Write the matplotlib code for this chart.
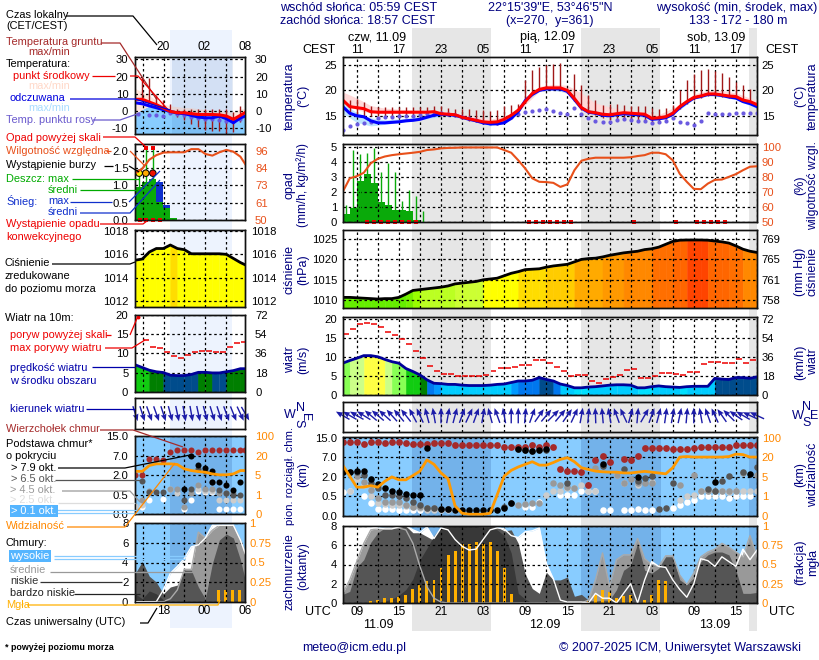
import numpy as np
import matplotlib
matplotlib.use('Agg')
import matplotlib.pyplot as plt
from matplotlib.patches import Rectangle

plt.rcParams['font.family'] = ['Liberation Sans', 'DejaVu Sans']

nan = np.nan

# ---- big panels, hourly from 07 UTC 11.09 ----
hours = np.arange(60)
temp_mid = [18.1,16.8,16.6,16.4,15.8,15.7,15.7,15.7,15.7,15.7,
            15.7,15.7,15.7,15.8,15.4,15.3,15.2,14.7,14.4,14.1,
            13.8,13.7,13.8,14.3,15.1,16.1,17.8,19.4,20.2,20.5,
            20.5,20.5,20.0,18.4,16.6,15.8,15.6,15.3,15.2,15.4,
            15.6,15.5,15.4,15.3,14.5,14.6,14.8,15.5,16.8,17.8,
            18.6,18.9,19.3,19.3,19.1,18.9,18.8,18.1,17.8,17.2]
temp_feel = [16.8,15.5,15.0,14.8,14.0,13.6,13.6,13.7,13.8,14.0,
             14.1,14.3,14.7,15.1,15.3,15.2,15.1,14.7,14.3,14.0,
             13.6,13.4,13.4,13.6,14.5,15.8,18.0,19.2,20.0,20.3,
             20.3,20.3,19.8,18.2,16.5,15.7,15.5,15.1,15.0,15.2,
             15.4,15.3,15.2,15.1,14.3,14.4,14.6,15.3,16.6,17.6,
             18.5,18.8,19.2,19.2,19.0,18.7,18.5,17.8,17.4,16.8]
dew_point = [12.2,13.0,13.4,13.5,13.8,14.5,14.7,14.8,14.9,15.0,
             15.0,15.2,15.3,15.4,15.5,15.3,15.1,14.7,14.5,14.1,
             13.8,13.6,13.6,14.0,14.8,15.3,15.8,16.0,16.1,16.4,
             16.0,15.5,15.3,16.6,15.3,14.5,13.9,13.8,13.7,14.1,
             14.3,14.1,14.0,13.9,13.6,13.8,13.9,14.5,13.7,13.6,
             13.2,14.0,15.5,15.3,15.3,15.3,15.5,15.5,15.6,15.5]
ground_max = [nan,18.1,18.3,17.8,16.9,16.8,16.8,16.8,16.8,16.8,
              16.8,16.8,16.8,16.9,16.9,16.6,16.4,16.4,16.4,16.1,
              16.1,16.0,16.1,16.9,17.1,17.4,22.0,24.0,24.7,25.0,
              25.3,25.5,20.4,23.2,21.0,19.0,18.1,17.1,17.4,17.4,
              17.1,16.9,17.0,17.0,16.6,16.3,16.6,17.1,20.0,22.0,
              23.2,24.0,24.2,23.9,23.4,22.6,21.7,21.0,20.2,nan]
ground_min = [nan,15.2,15.0,15.0,15.0,15.0,15.0,15.0,15.0,15.0,
              15.0,15.0,15.0,15.0,15.0,15.0,14.8,14.3,14.0,13.8,
              13.5,13.3,13.2,13.7,14.5,15.8,17.5,19.0,20.0,20.3,
              20.3,20.0,19.7,18.0,16.2,15.4,15.2,14.6,14.2,14.0,
              14.6,14.3,14.2,14.0,13.5,13.9,14.4,15.2,16.4,17.4,
              18.2,18.6,18.9,18.9,18.8,18.6,18.4,17.8,17.6,nan]
spread_t = [0,2,4,6,9,12,15,18,21,24,26,28,30,32,34,36,39,42,45,48,50,52,54,56,59]
pink_top = [19.7,18.5,17,16.5,16.2,16,15.8,15.1,14.3,15.3,18.2,20.8,21.2,21,19.5,17.5,16.4,16,15.2,17.2,19.3,20,20,19.5,18]
pink_bot = [17.5,16.2,15.5,15.5,15.5,15.5,15.2,14.2,13.5,14.2,17.2,19.8,20.2,19.4,16.5,15.2,15.1,15.1,14.3,16.3,18.4,19,18.9,18.6,17]
feel_top = [17.5,15.6,14.6,14.2,14.5,15,15.5,14.7,13.8,14.8,18.3,20.1,20.5,20,16.8,15.9,15.4,15.3,14.6,16.8,18.7,19.4,19.2,18.7,17]
feel_bot = [15.5,13.7,13,13.3,13.8,14.4,15,14.1,13,14.3,17.8,19.9,20,19.6,16.2,15.2,14.9,14.9,14.1,16.2,18.3,18.9,18.7,18.2,16.4]

rain_mean = [.55,.9,2.7,3.2,2.6,1.35,1.15,.8,.8,.7,.15,.03]
rain_max = [1.1,4.8,4.5,4.6,4.9,3.3,3.9,3.3,1.4,2.15,1.7,.7]
rain_t = np.arange(12)
conv_t = [3.5,4.5,5.5,6.5,7.5,8.5,9.5,10.5,26.5,27.5,28.5,29.5,30.5,31.5,32.5,41.5,47.5,50.5,51.5,52.5,53.5,54.5]
humidity = [70,79,80.4,82.7,89,92,93.5,94.4,95,95.5,96,96.6,97.8,98.2,98.9,99.2,99.3,99.5,99.5,99.5,
            99.5,99.5,99.5,97.8,96,91,85.5,79,76.7,76.5,
            76,73.3,75,84.4,90.7,92,92.7,92.7,92.7,92.7,92.7,93,93.8,94.4,96,96,95,91,82,76.7,
            72,71.8,75.5,78,78.2,80,81.8,84.4,86.7,87]

pressure = [1010.7,1010.7,1010.6,1010.5,1010.4,1010.3,1010.4,1010.4,1010.7,1011.5,
            1012.4,1012.6,1012.8,1013.0,1013.2,1013.5,1014.0,1014.2,1014.4,1014.6,
            1015.0,1015.2,1015.4,1016.0,1016.6,1017.0,1017.5,1017.6,1017.7,1018.1,
            1018.4,1018.6,1018.8,1019.4,1020.0,1020.2,1020.3,1020.6,1021.0,1021.3,
            1021.6,1021.8,1022.0,1022.4,1022.6,1023.0,1023.7,1024.4,1024.7,1024.75,
            1024.75,1024.75,1024.7,1024.5,1024.3,1024.0,1023.3,1022.5,1022.0,1021.7]
wind = [8.4,9.1,9.7,10.4,10.4,10.1,9.4,8.8,8.4,7.0,
        6.2,5.3,4.0,3.1,3.0,2.8,2.8,2.6,2.5,2.5,
        2.5,2.6,2.8,2.9,3.3,3.7,3.7,3.9,4.6,4.1,
        3.7,2.9,2.5,1.9,1.9,2.1,2.2,2.4,2.6,2.7,
        2.7,2.6,1.9,1.9,2.2,2.4,2.2,2.1,2.0,2.2,
        2.3,2.3,2.3,4.4,4.2,4.1,4.6,4.6,4.4,4.8]
gust = [16,17.4,18.7,19,18.7,17.9,16.7,15.8,14.7,13.4,
        11.7,9.9,7.6,6.3,5.5,5.5,5.1,4.9,4.9,4.9,
        5.2,6.4,7,7,7.5,7.8,7.8,9.2,9.2,8.4,
        7.5,6.3,4.9,5.4,5.2,3.7,3.1,4.1,4.7,5.2,
        6.5,6.8,4.4,4.4,4.9,5.7,5.7,5.5,5.2,6.1,
        6.1,8.1,8.6,8.6,8.4,8.5,9.4,8.5,9.2]
wind_dir = [-60,-60,-60,-58,-50,-50,-48,-42,-40,-38,
            -28,-25,-15,-10,0,10,15,20,25,20,
            10,-15,-20,-10,0,0,5,20,35,40,
            45,40,35,25,10,5,-2,-5,-10,-20,
            -25,15,5,30,20,15,8,10,12,5,
            0,-10,-20,-25,-35,-45,-55,-60,-65,-65]

cloud_top = [13.4,13.4,13.4,12.6,13.4,13.4,12.8,13.4,13.4,12.8,12.6,12.6,12.6,12.8,12.8,12.8,12.1,12.1,12.1,12.1,
             12.1,12.1,12.1,11.3,11.3,11.3,11.3,11.9,11.3,12,
             11.3,4.1,3.5,3.5,3.2,1.4,6.3,7.5,5.9,nan,6.6,6.3,7.5,10.8,10.8,10.9,10.9,10.3,10.3,10.3,
             10.8,11.3,11.3,11.3,11.3,11.3,12.1,12.1,12.1,12.1]
black_t = [0,1,2,3,4,5,6,7,8,9,10,11,12,14,15,16,17,18,19,20,21,22,23,24,25,26,27,28,29,37,42,53,58]
black_km = [3.3,3.3,3.55,3.4,1.8,1.45,1.15,.95,.85,.7,.63,.58,10.7,.19,.17,.16,.16,.16,.16,.16,.16,.16,.2,.33,10.4,10.1,9.6,10.1,10.2,5.2,2.05,1.6,2.7]
dark_t = [1,2,3,4,5,6,7,8,9,10,11,12,13,14,15,23,24,25,26,27,28,29,32,37,40,42,43,44,45,46,47,52,53,54,55,57,59]
dark_km = [3.2,3.2,2.6,1.53,1.15,.63,.58,.5,.46,.37,.28,.2,.2,.18,.17,.22,.33,10.2,9.9,9.4,9.8,10,1.55,4.7,3.9,1.7,1.9,2.2,.17,.2,1.55,1.1,.9,1.66,2.2,3.3,4.5]
grey_t = [2,3,4,5,6,7,8,9,10,11,12,13,25,26,27,28,30,31,32,33,36,39,40,41,42,43,44,48,50,51,52,53,54,55,56,57,59]
grey_km = [2.2,1.58,1.02,.46,.37,.37,.37,.28,.22,.22,.2,.2,.28,.3,.33,.33,1.53,1.4,1.22,1.15,4.3,2.6,1.53,1.8,1.53,1.53,1.53,1.4,2.6,.95,.95,.95,.95,.95,.95,3,2.5]
light_t = [1,2,3,4,5,6,7,8,9,10,11,12,13,14,15,16,29,30,31,32,33,34,35,36,39,40,42,44,48,49,50,51,52,53,54,55,56,57,58,59]
light_km = [.89,1.8,1.4,.5,.33,.3,.28,.28,.26,.24,.2,.16,.16,.15,.15,.15,.62,.89,.89,1.15,1.15,1.4,.89,.89,2.6,1.53,1.4,1.58,.42,.5,.63,.95,.89,.89,.95,.85,.89,.89,.89,.89]
white_t = [0,1,3,4,5,6,7,8,9,10,11,26,27,28,31,32,33,34,35,36,37,38,40,41,42,43,44,47,48,49,50,51,52,53,54,55,56,57,58]
white_km = [.85,.92,.5,.33,.18,.17,.17,.16,.16,.16,.16,.24,.24,.37,.63,.63,.63,.95,.89,.89,.15,.15,.15,.15,.17,.15,.15,.2,.28,.37,.41,.5,.5,.5,.5,.46,.5,.54,.54]
visibility = [14,5.5,2.9,2.9,3.2,2.9,4.1,5,4.4,4.4,6,9.4,18,14.6,8,4.6,.52,.14,.09,.09,.09,.14,1.34,5.5,10,12.6,14.6,16.6,14,14,
              16,18.4,19.7,16.6,12,10.7,9.4,8.9,8.6,8.6,8,8,8.6,9.2,8.6,8,7.3,12,21,23,
              21,21,21,21,21,23,33,31,21,21]

cloud_high = [8,8,8,8,7.9,7.8,7.7,7.7,7.9,8,7.6,7.3,7.9,6.7,7.8,7.6,6.6,5.9,5.5,5.6,
              6.6,7.6,7.8,7.7,7,6.8,7.4,7.5,7.8,4.1,2.5,.3,.1,.1,.1,0,1,.5,.5,0,
              1,2,0,2.4,4.3,3.8,3.7,2.4,1.4,.6,2,4.6,4.4,3.8,4.8,4.3,3.8,5.6,4.5,5.5]
cloud_mid = [1,2.4,4.3,6.2,7.6,7.7,7.8,7.8,7.8,7.6,6.2,3.8,1.7,.5,.1,0,0,0,0,0,
             0,0,0,0,0,0,0,0,0,0,0,0,0,0,0,.3,2.4,5.2,1.7,4.5,
             5,5,6.7,4.6,4,3.8,4.9,4.9,2.9,1.9,3.1,4.8,5.3,5.6,6.2,5.8,5.3,4.8,7,4.8]
cloud_low = [.9,1.2,3.7,4.5,6.3,7.3,7.8,7.9,8,8,7.3,7.3,6.9,6.5,7.9,8,8,8,8,8,
             8,8,7.9,7.5,7.6,6.2,3,1.5,1,3.2,2.4,2.4,2.7,.7,.9,.3,.2,.3,.3,1.4,
             3.4,3.9,6.2,3.4,3.1,3.6,4.8,4.8,2.4,1.9,2.6,4.3,5,5.3,5.3,5,3.4,1,1,1.1]
cloud_vlow = [0,0,0,0,0,0,.2,.4,.8,1.4,2.5,4.5,5.7,7,7.9,7.9,8,8,8,8,
              7.8,7.9,7.6,7,5.2,1,.4,0,0,0,0,0,0,0,0,0,0,0,0,0,
              0,0,0,0,0,0,0,0,0,0,0,0,0,0,0,0,0,0,0,0]
fog_t = [4,5,6,7,8,9,10,11,12,13,14,15,16,17,18,19,20,21,22,23,24,35,36,37,38,39,40,41,43,44,45,46]
fog_frac = [.03,.04,.06,.06,.08,.11,.18,.24,.28,.30,.45,.62,.68,.76,.76,.79,.76,.79,.67,.46,.12,
            .02,.1,.17,.14,.07,.09,.1,.04,.1,.3,.28]

# ---- small legend panels on the left ----
lhours = [0,1,2,3,4,5,6,7,8,9,10,11,12,13,14,15,15.7]
ltemp_mid = [6.8,6.8,5.2,3.7,1.7,-.2,-1,-1,-1.5,-2,-2,-2,-2.2,-2.9,-4.8,-2.5,-.8]
ltemp_feel = [4.8,4.2,3,1.9,.8,-.2,-1.2,-1.5,-2.5,-3.5,-3.9,-3.9,-3,-4.4,-6.8,-4,-2.9]
ldew_t = [.4,2,3,4,5,6,7,8,9,10,11,12,13,14,15]
ldew = [-1.5,-2.5,-2.5,-2.9,-1.2,-1.5,-2.5,-3.5,-3.9,-4.8,-4.8,-5.4,-5.8,-5.8,-4.4]
lground_t = [1,2,3,4,5,6,7,8,9,10,11,12,13,14,15]
lground_max = [19.7,19.3,9.1,6.2,4.2,1.4,1.4,1.4,1.4,1.4,1.4,1,1,-.6,2.7]
lground_min = [6.2,5.2,3.3,.4,-1.9,-3.5,-5.4,-7.3,-9.3,-10.8,-11.6,-11.6,-13,-12.2,-6.4]
lpink = [13,11,9.1,6.2,4.2,3,2.5,2,1.9,1.3,1,.5,0,-.5,-.6,1.3,1.3]
lfeel_top = [-1.5,1,3,2,.8,-.5,-1.5,-2,-2.5,-3,-3.5,-3.5,-3.9,-4.5,-7.3,-4,-3.5]
lrain_mean = [.96,1.1,1.18,.53,.34,.05]
lsnow_mean = [0,0,0,1.1,.43,0]
lrain_max_t = [.55,1.5,2.5]
lrain_max = [1.35,2.07,2.07]
lstorm_t = [.55,1.5,2.5]
lstorm_cols = ['#ffee00','#ffaa00','#ee1100']
lhumidity = [81,84,90,93,94.7,94.9,94.9,94.9,97,97,93.8,92.7,94.9,96.5,95.3,92,87]
lpressure = [1015.5,1015.6,1016.2,1016.5,1016.5,1016.8,1016.5,1016.4,1016.05,1016.05,1016.05,1016.05,1016.05,1016,1015.65,1015.3,1015.1]
lwind = [7,6.3,5.6,5.2,5,4.3,4.2,4.2,4.5,5.05,5.05,4.9,4.9,5.2,5.5,6,6]
lgust = [nan,13.5,11.6,11.3,10.4,9.4,8.7,9.7,10.4,10.7,10.7,10.4,10.4,11.6,12.7,12.9]
lwind_dir = [162,162,160,160,162,165,168,170,170,168,165,163,162,160,158,155,150]
ltop = [2,2,6.2,6.2,5.8,8.6,9.5,9.5,9.5,8.6,9.5,9.5,9.5,9.5,9.5,9.5,9.5]
lblack_t = [7,8,9,10,11,11,12,13,14,15]
lblack_km = [.92,6.83,4.67,3.8,3.2,1.48,1.48,1.24,.87,1.48]
ldark_t = [1,2,3,4,7,8,9,10,11,12,13,14,15]
ldark_km = [1.53,.67,.67,.67,.37,.92,3.6,3.2,1.48,.87,.62,.5,.5]
lgrey_t = [1,2,5,6,7,8,9,10,11,12,13,14]
lgrey_km = [.37,.75,.92,.92,.19,.62,1.24,.92,.92,.62,.62,.62]
llight_t = [0,1,5,6,9,10,11,12,13,14,15]
llight_km = [.21,.24,.92,.62,.92,.75,.75,.37,.37,.37,.37]
lwhite_t = [1,2,4,7,8,9,10,11,12,13,14,15]
lwhite_km = [.19,.37,.39,.12,.37,.75,.67,.67,.12,.12,.12,.12]
lvisibility = [8,8,12.5,13.8,13.8,13.8,13.3,9.9,8.6,7.8,7.3,6,5.3,5.3,6,8.6,8.6]
lcloud_high = [0,0,0,0,1.2,2.9,3.6,4.4,5.6,5.8,6.5,7.8,7.8,7.8,7.8,6.3,4.9]
lcloud_mid = [0,0,0,0,0,.3,1.2,3.3,3.3,7.1,6.5,7.3,7.8,7.8,7.8,6.3,4.9]
lcloud_low = [2.9,4.1,2.6,2,.8,1.5,1.7,3.2,3.2,1.5,.3,3.9,6.3,6.9,6.5,4.3,2.2]
lcloud_vlow = [.8,.3,1.1,.8,.2,0,0,0,0,0,0,0,0,0,0,0,0]
lfog_t = [11.9,12.9,13.9,14.9]
lfog_frac = [.15,.15,.15,.15]

# tick labels
local_ticks = ['11','17','23','05','11','17','23','05','11','17']
utc_ticks = ['09','15','21','03','09','15','21','03','09','15']

W, H = 820, 660
fig = plt.figure(figsize=(W/100, H/100), dpi=100, facecolor='white')

bg = fig.add_axes([0, 0, 1, 1], zorder=-1)
bg.set_xlim(0, W); bg.set_ylim(H, 0); bg.axis('off')
over = fig.add_axes([0, 0, 1, 1], zorder=20)
over.set_xlim(0, W); over.set_ylim(H, 0); over.axis('off')
over.patch.set_alpha(0)

# night bands
bg.add_patch(Rectangle((170, 30), 62, 598, color='#edf3fe', lw=0))
for x0, x1 in [(412, 490.7), (581, 660), (749, 757)]:
    bg.add_patch(Rectangle((x0, 28), x1-x0, 603, color='#e6e6e6', lw=0))

FS = 9      # header and axis titles
LFS = 7.9   # legend column
TFS = 8.1   # tick labels


def txt(x, y, s, color='black', ha='left', rot=0, fs=FS, **kw):
    over.text(x, y, s, color=color, ha=ha, va='center', rotation=rot, fontsize=fs, **kw)


def ltxt(x, y, s, color='black', **kw):
    kw.setdefault('fs', LFS)
    txt(x, y, s, color, **kw)


def lead(xs, ys, color='black', lw=0.9):
    over.plot(xs, ys, color=color, lw=lw, solid_capstyle='butt')


def panel(x0, x1, y0, y1, xmax, ylim, yticks, ylabels, rlabels, xticks, rcol='black', lpad=4, rpad=3.5):
    ax = fig.add_axes([x0/W, 1-y1/H, (x1-x0)/W, (y1-y0)/H], zorder=5)
    ax.patch.set_alpha(0)
    ax.set_xlim(0, xmax)
    ax.set_ylim(*ylim)
    ax.set_xticks(xticks)
    ax.set_xticklabels([])
    ax.set_yticks(yticks)
    ax.set_yticklabels(ylabels)
    ax.tick_params(length=0, pad=lpad, labelsize=TFS)
    ax.grid(True, color='black', lw=0.9, ls=(0, (2, 2.2)))
    ax.set_axisbelow(False)
    rx = ax.twinx()
    rx.set_ylim(*ylim)
    rx.set_yticks(yticks)
    rx.set_yticklabels(rlabels)
    rx.tick_params(length=0, pad=rpad, labelsize=TFS, labelcolor=rcol)
    rx.patch.set_alpha(0)
    for a in (ax, rx):
        for s in a.spines.values():
            s.set_linewidth(1.0)
            s.set_color('#111111')
    return ax, rx


def press_col(p):
    levels = [1010.8, 1011.5, 1012.5, 1013.5, 1014.6, 1016.7, 1018.0, 1019, 1020.3, 1021.5, 1022.5, 1024, 1024.72]
    cols = ['#66ee00', '#77f000', '#99ff00', '#bbff22', '#ccff33', '#ffff00', '#ffdd00', '#ffcc00',
            '#ffaa00', '#ff9900', '#ff8800', '#ff6f00', '#ff6600', '#ff4400']
    return cols[np.searchsorted(levels, p)]


def wind_col(v):
    levels = [2, 3, 3.5, 4, 5, 6, 7, 8, 9, 10]
    cols = ['#00e0ff', '#00ccff', '#0099ff', '#0077ee', '#004c8c', '#007f00', '#11cc11', '#55ee33',
            '#88ff55', '#ccff88', '#ffff44']
    return cols[np.searchsorted(levels, v)]


def stepped_fill(ax, t, v, base, colfun):
    for i in range(len(t)-1):
        ax.fill_between(t[i:i+2], base, v[i:i+2], color=colfun(v[i]), lw=0.4, zorder=1)


def base_scale(ax, knots):
    pos = [0, 1, 2, 3, 4, 5]
    ax.set_yscale('function', functions=(lambda v: np.interp(v, knots, pos),
                                         lambda p: np.interp(p, pos, knots)))


def dots(ax, t, km, col, s):
    ax.scatter(t, km, s=s, color=col, lw=0, zorder=3)


km_knots = [0, .5, 2, 7, 15, 23]
vis_knots = [0, 1, 5, 20, 100, 180]
night_spans = [(9.9, 21.1), (34, 45.3), (57.9, 59)]

# ------------- main column -------------
MX0, MX1 = 342.7, 757
mx = np.arange(2, 60, 3)
hrs = np.array(hours)

# temperature
ax, rx = panel(MX0, MX1, 57, 135, 59, (11.2, 26.6), [15, 20, 25], ['15', '20', '25'], ['15', '20', '25'], mx)
ax.fill_between(spread_t, pink_bot, pink_top, color='#ffd9d9', lw=0, zorder=1)
ax.fill_between(spread_t, feel_bot, feel_top, color='#bde4ff', lw=0, zorder=1.1)
ax.vlines(hrs, ground_min, ground_max, color='#a01818', lw=1.0, zorder=3)
ax.scatter(hrs, dew_point, s=9, color='#6a5ae0', lw=0, zorder=3)
ax.plot(hrs, temp_feel, color='#0000ff', lw=2.2, zorder=4)
ax.plot(hrs, temp_mid, color='#ff0000', lw=2.2, zorder=4)

# precipitation and humidity
ax, rx = panel(MX0, MX1, 144, 222, 59, (0, 5.18), [0, 1, 2, 3, 4, 5], ['0', '1', '2', '3', '4', '5'],
               ['50', '60', '70', '80', '90', '100'], mx, rcol='#e8501a')
ax.bar(rain_t, rain_mean, width=1, align='edge', color='#0aaa0a', lw=0, zorder=1)
ax.vlines(rain_t+0.45, 0, rain_max, color='#0aaa0a', lw=1.0, zorder=3)
ax.scatter(conv_t, np.zeros(len(conv_t)), s=7, marker='s', color='#ee0000', lw=0, zorder=4, clip_on=False)
rx.set_ylim(50, 101.8)
rx.set_yticks([50, 60, 70, 80, 90, 100])
rx.set_yticklabels(['50', '60', '70', '80', '90', '100'])
rx.plot(hrs, humidity, color='#e8501a', lw=1.5)

# pressure
ax, rx = panel(MX0, MX1, 230, 308, 59, (1008.1, 1027.2), [1010, 1015, 1020, 1025],
               ['1010', '1015', '1020', '1025'], ['758', '761', '765', '769'], mx)
stepped_fill(ax, hrs, pressure, 1008.1, press_col)
ax.plot(hrs, pressure, color='black', lw=2, zorder=4)

# wind
ax, rx = panel(MX0, MX1, 317, 395, 59, (0, 20.6), [0, 5, 10, 15, 20], ['0', '5', '10', '15', '20'],
               ['0', '18', '36', '54', '72'], mx)
stepped_fill(ax, hrs, wind, 0, wind_col)
ax.plot(hrs, wind, color='#000099', lw=2, zorder=4)
ax.hlines(gust, hrs[:-1]+0.05, hrs[:-1]+0.9, color='#ee0000', lw=1.1, zorder=4)

# wind direction
ax, rx = panel(MX0, MX1, 402, 432, 59, (0, 1), [], [], [], mx)
d = np.radians(wind_dir)
ax.quiver(hrs, np.full(60, .55), np.sin(d), np.cos(d), color='#1c1ca8', pivot='mid', angles='uv',
          scale_units='inches', scale=6.4, units='inches', width=.014, headwidth=4.2, headlength=5,
          headaxislength=4.5, zorder=4, clip_on=False)

# cloud base and visibility
ax, rx = panel(MX0, MX1, 437, 516, 59, (0, 15.3), [0, .5, 2, 7, 15], ['0.0', '0.5', '2.0', '7.0', '15.0'],
               ['0', '1', '5', '20', '100'], mx, rcol='#ff8800')
base_scale(ax, km_knots)
ax.set_ylim(0, 15.3)
ax.set_yticks([0, .5, 2, 7, 15])
ax.set_yticklabels(['0.0', '0.5', '2.0', '7.0', '15.0'])
ax.patch.set_alpha(1)
ax.patch.set_facecolor('#88ccff')
for a0, a1 in night_spans:
    ax.axvspan(a0, a1, color='#4477bb', alpha=.3, lw=0, zorder=1)
dots(ax, white_t, white_km, 'white', 22)
dots(ax, light_t, light_km, '#cccccc', 22)
dots(ax, grey_t, grey_km, '#999999', 22)
dots(ax, dark_t, dark_km, '#555555', 22)
dots(ax, hrs, cloud_top, '#a52a2a', 24)
dots(ax, black_t, black_km, 'black', 22)
base_scale(rx, vis_knots)
rx.set_ylim(0, 103)
rx.set_yticks([0, 1, 5, 20, 100])
rx.set_yticklabels(['0', '1', '5', '20', '100'])
rx.plot(hrs, visibility, color='#ff9900', lw=2)

# cloud cover and fog
ax, rx = panel(MX0, MX1, 526, 603, 59, (0, 8), [0, 2, 4, 6, 8], ['0', '2', '4', '6', '8'],
               ['0', '0.25', '0.5', '0.75', '1'], mx, rcol='#ff8800')
ax.patch.set_alpha(1)
ax.patch.set_facecolor('#88ccff')
for a0, a1 in night_spans:
    ax.axvspan(a0, a1, color='#4477bb', alpha=.3, lw=0, zorder=.9)
ax.fill_between(hrs, 0, cloud_high, color='white', lw=0, zorder=1)
ax.fill_between(hrs, 0, cloud_mid, color='#999999', lw=0, zorder=1.1)
ax.fill_between(hrs, 0, cloud_low, color='#555555', lw=0, zorder=1.2)
ax.fill_between(hrs, 0, cloud_vlow, color='#383838', lw=0, zorder=1.3)
ax.bar(fog_t, np.array(fog_frac)*8, width=.42, color='#ffb000', lw=0, zorder=2)
ax.plot(hrs, cloud_high, color='white', lw=1, zorder=4)
ax.plot(hrs, cloud_mid, color='#aaaaaa', lw=1, zorder=3.5)

# ------------- left legend column -------------
LX0, LX1 = 135.3, 245.3
lt = np.array(lhours)
lx = np.array([1.15, 4.15, 7, 10, 12.95])

ax, rx = panel(LX0, LX1, 57, 134, 15.7, (-13.3, 31.3), [-10, 0, 10, 20, 30], ['-10', '0', '10', '20', '30'],
               ['-10', '0', '10', '20', '30'], lx, lpad=5, rpad=7)
ax.fill_between(lt, -14, lfeel_top, color='#88ccff', lw=0, zorder=1)
ax.fill_between(lt, lfeel_top, lpink, color='#ffe6dc', lw=0, zorder=1)
ax.axvspan(5.2, 14, color='#4477bb', alpha=.15, lw=0, zorder=1.1)
ax.vlines(lground_t, lground_min, lground_max, color='#a01818', lw=1.0, zorder=3)
ax.scatter(ldew_t, ldew, s=9, color='#6a5ae0', lw=0, zorder=3)
ax.plot(lt, ltemp_feel, color='#0000ff', lw=2.2, zorder=4)
ax.plot(lt, ltemp_mid, color='#ff0000', lw=2.2, zorder=4)

ax, rx = panel(LX0, LX1, 143.7, 220, 15.7, (0, 2.2), [0, .5, 1, 1.5, 2], ['0.0', '0.5', '1.0', '1.5', '2.0'],
               ['50', '61', '73', '84', '96'], lx, rcol='#e8501a', lpad=5, rpad=7)
ax.bar(np.arange(6), lsnow_mean, width=1, align='edge', color='#1030cc', lw=0, zorder=1)
ax.bar(np.arange(6), lrain_mean, width=1, align='edge', color='#0aaa0a', lw=0, zorder=1.1)
ax.vlines(lrain_max_t, 0, lrain_max, color='#0aaa0a', lw=1.0, zorder=3)
ax.scatter(lrain_max_t[1:], [2.09, 2.09], s=10, marker='s', color='#ee0000', lw=0, zorder=4, clip_on=False)
ax.scatter(lstorm_t, [1.35, 1.35, 1.35], s=22, c=lstorm_cols, edgecolors='black', lw=.7, zorder=5)
ax.scatter([.7, 1.5, 2.5, 3.5], [0, 0, 0, 0], s=5, marker='s', color='#ee0000', lw=0, zorder=4, clip_on=False)
rx.set_ylim(50, 100.6)
rx.set_yticks([50, 61.5, 73, 84.5, 96])
rx.set_yticklabels(['50', '61', '73', '84', '96'])
rx.plot(lt, lhumidity, color='#e8501a', lw=1.5)

ax, rx = panel(LX0, LX1, 229.7, 306.7, 15.7, (1011.52, 1018.11), [1012, 1014, 1016, 1018],
               ['1012', '1014', '1016', '1018'], ['1012', '1014', '1016', '1018'], lx, lpad=5, rpad=4)
stepped_fill(ax, lt, lpressure, 1011.52, press_col)
ax.plot(lt, lpressure, color='black', lw=2, zorder=4)

ax, rx = panel(LX0, LX1, 315, 391.7, 15.7, (0, 20), [0, 5, 10, 15, 20], ['0', '5', '10', '15', '20'],
               ['0', '18', '36', '54', '72'], lx, lpad=5, rpad=7)
stepped_fill(ax, lt, lwind, 0, wind_col)
ax.plot(lt, lwind, color='#000099', lw=2, zorder=4)
ax.hlines(lgust, np.arange(16)+.05, np.arange(16)+.95, color='#ee0000', lw=1.1, zorder=4)
ax.scatter([.45], [19.6], s=8, color='#ee0000', lw=0, zorder=5, clip_on=False)

ax, rx = panel(LX0, LX1, 398.3, 429, 15.7, (0, 1), [], [], [], lx)
d = np.radians(lwind_dir)
ax.quiver(lt, np.full(17, .5), np.sin(d), np.cos(d), color='#1c1ca8', pivot='mid', angles='uv',
          scale_units='inches', scale=6.4, units='inches', width=.014, headwidth=4.2, headlength=5,
          headaxislength=4.5, zorder=4, clip_on=False)

ax, rx = panel(LX0, LX1, 435.7, 514, 15.7, (0, 15.3), [0, .5, 2, 7, 15], ['0.0', '0.5', '2.0', '7.0', '15.0'],
               ['0', '1', '5', '20', '100'], lx, rcol='#ff8800', lpad=5, rpad=7)
base_scale(ax, km_knots)
ax.set_ylim(0, 15.3)
ax.set_yticks([0, .5, 2, 7, 15])
ax.set_yticklabels(['0.0', '0.5', '2.0', '7.0', '15.0'])
ax.patch.set_alpha(1)
ax.patch.set_facecolor('#88ccff')
ax.axvspan(5.0, 13.8, color='#4477bb', alpha=.3, lw=0, zorder=1)
dots(ax, lwhite_t, lwhite_km, 'white', 19)
dots(ax, llight_t, llight_km, '#cccccc', 19)
dots(ax, lgrey_t, lgrey_km, '#999999', 19)
dots(ax, ldark_t, ldark_km, '#555555', 19)
dots(ax, lt, ltop, '#a52a2a', 19)
dots(ax, lblack_t, lblack_km, 'black', 19)
base_scale(rx, vis_knots)
rx.set_ylim(0, 103)
rx.set_yticks([0, 1, 5, 20, 100])
rx.set_yticklabels(['0', '1', '5', '20', '100'])
rx.plot(lt, lvisibility, color='#ff9900', lw=2)

ax, rx = panel(LX0, LX1, 523.3, 601.7, 15.7, (0, 8), [0, 2, 4, 6, 8], ['0', '2', '4', '6', '8'],
               ['0', '0.25', '0.5', '0.75', '1'], lx, rcol='#ff8800', lpad=5, rpad=3)
ax.patch.set_alpha(1)
ax.patch.set_facecolor('#88ccff')
ax.axvspan(5.0, 13.8, color='#4477bb', alpha=.3, lw=0, zorder=.9)
ax.fill_between(lt, 0, lcloud_high, color='white', lw=0, zorder=1)
ax.fill_between(lt, 0, lcloud_mid, color='#999999', lw=0, zorder=1.1)
ax.fill_between(lt, 0, lcloud_low, color='#555555', lw=0, zorder=1.2)
ax.fill_between(lt, 0, lcloud_vlow, color='#383838', lw=0, zorder=1.3)
ax.bar(lfog_t, np.array(lfog_frac)*8, width=.42, color='#ffb000', lw=0, zorder=2)
ax.plot(lt, lcloud_high, color='white', lw=1, zorder=4)
ax.plot(lt, lcloud_mid, color='#aaaaaa', lw=1, zorder=3.5)

# ------------- texts -------------
navy = '#000080'
txt(280, 8, 'wschód słońca: 05:59 CEST', navy)
txt(280, 21, 'zachód słońca: 18:57 CEST', navy)
txt(550, 8, '22°15\'39"E, 53°46\'5"N', navy, ha='center')
txt(550, 21, '(x=270,  y=361)', navy, ha='center')
txt(817, 8, 'wysokość (min, środek, max)', navy, ha='right')
txt(738, 21, '133 - 172 - 180 m', navy, ha='center')

txt(377, 37, 'czw, 11.09', ha='center')
txt(548, 37, 'pią, 12.09', ha='center')
txt(716, 37, 'sob, 13.09', ha='center')
txt(319, 50, 'CEST', ha='center')
txt(782, 50, 'CEST', ha='center')
txt(318, 612, 'UTC', ha='center')
txt(782, 612, 'UTC', ha='center')
for i, (a, b) in enumerate(zip(local_ticks, utc_ticks)):
    x = MX0 + (2 + 6*i) * (MX1-MX0)/59
    txt(x, 50, a, ha='center', fs=8.6)
    txt(x, 612, b, ha='center', fs=8.6)
txt(378, 625, '11.09', ha='center')
txt(545, 625, '12.09', ha='center')
txt(715, 625, '13.09', ha='center')
txt(354, 648, 'meteo@icm.edu.pl', navy, ha='center')
txt(680, 648, '© 2007-2025 ICM, Uniwersytet Warszawski', navy, ha='center')

for x, s in zip([163, 204, 245], ['20', '02', '08']):
    txt(x, 47, s, ha='center', fs=8.6)
for x, s in zip([164, 204, 245], ['18', '00', '06']):
    txt(x, 611, s, ha='center', fs=8.6)

# rotated labels
for x, y, s, fs in [(290, 96, 'temperatura', 9), (303, 96, '(°C)', 9), (290, 185, 'opad', 9), (303, 185, '(mm/h, kg/m²/h)', 8.6),
                    (290, 270, 'ciśnienie', 9), (303, 270, '(hPa)', 9), (290, 360, 'wiatr', 9), (303, 360, '(m/s)', 9),
                    (290, 476, 'pion. rozciągł. chm.', 8.2), (303, 475, '(km)', 9),
                    (290, 572, 'zachmurzenie', 8.8), (303, 566, '(oktanty)', 8.8),
                    (813, 96, 'temperatura', 9), (800, 96, '(°C)', 9), (813, 185, 'wilgotność wzgl.', 8.8), (800, 185, '(%)', 9),
                    (813, 272, 'ciśnienie', 9), (800, 272, '(mm Hg)', 9), (813, 362, 'wiatr', 9), (800, 362, '(km/h)', 9),
                    (813, 475, 'widzialność', 9), (800, 475, '(km)', 9), (813, 562, 'mgła', 9), (800, 562, '(frakcja)', 9)]:
    over.text(x, y, s, color=navy, rotation=90, ha='center', va='center', fontsize=fs)

# compass
for x, y, s, r in [(290, 415, 'W', 0), (301, 408, 'N', 0), (305, 417, 'E', -90), (298, 423, 'S', -90),
                   (798, 416, 'W', 0), (807, 407, 'N', 0), (814, 416, 'E', 0), (807, 423, 'S', 0)]:
    over.text(x, y, s, color=navy, rotation=r, ha='center', va='center', fontsize=FS)

# legend texts with leader lines
brown, red, blue, green = '#a52a2a', '#ee0000', '#0000dd', '#00aa00'
ltxt(6, 15, 'Czas lokalny')
ltxt(6, 26, '(CET/CEST)')
lead([66, 133, 157], [16, 16, 45])
ltxt(6, 42, 'Temperatura gruntu', brown)
ltxt(28, 52, 'max/min', brown)
lead([101, 120, 157], [43, 43, 100], brown)
ltxt(6, 64, 'Temperatura:')
ltxt(13, 76, 'punkt środkowy', red)
lead([92, 115], [76, 76], red)
lead([130, 138, 170], [76, 76, 112], red)
ltxt(28, 86, 'max/min', '#ffd8c8')
ltxt(10, 98, 'odczuwana', blue)
lead([70, 135, 170], [99, 99, 110], blue)
ltxt(28, 108, 'max/min', '#a8dcff')
ltxt(6, 120, 'Temp. punktu rosy', '#6a5acd')
lead([93, 120, 140], [120, 120, 113], '#6a5acd')
ltxt(6, 138, 'Opad powyżej skali', red)
lead([103, 135, 146], [137, 137, 147], red)
ltxt(6, 151, 'Wilgotność względna', '#e8501a')
lead([106, 111], [151, 151], '#e8501a')
lead([130, 145], [151, 166], '#e8501a')
ltxt(6, 165, 'Wystąpienie burzy')
lead([104, 113], [166, 166])
lead([129, 139], [166, 172])
ltxt(6, 179, 'Deszcz: max', green)
lead([72, 139], [179, 179], green)
ltxt(48, 190, 'średni', green)
lead([80, 140], [190, 190], green)
ltxt(6, 201, 'Śnieg:', '#1030cc')
ltxt(48, 201, 'max', '#1030cc')
lead([70, 112], [202, 202], '#1030cc')
lead([129, 160], [202, 171], '#1030cc')
ltxt(48, 212, 'średni', '#1030cc')
lead([80, 130, 160], [213, 213, 180], '#1030cc')
ltxt(6, 224, 'Wystąpienie opadu', red)
lead([100, 143, 147], [224, 224, 221], red)
ltxt(6, 237, 'konwekcyjnego', red)
ltxt(5, 263, 'Ciśnienie')
lead([52, 130, 135], [264, 264, 262])
ltxt(5, 276, 'zredukowane')
ltxt(5, 289, 'do poziomu morza')
ltxt(5, 318, 'Wiatr na 10m:')
ltxt(10, 335, 'poryw powyżej skali', red)
lead([106, 111], [335, 335], red)
lead([130, 138], [335, 316], red)
ltxt(10, 348, 'max porywy wiatru', red)
lead([105, 132, 145], [348, 348, 340], red)
ltxt(10, 368, 'prędkość wiatru', '#0000aa')
lead([92, 135], [367, 367], '#0000aa')
ltxt(10, 381, 'w środku obszaru', '#0000aa')
ltxt(10, 409, 'kierunek wiatru', '#0000aa')
lead([86, 135], [409, 409], '#0000aa')
ltxt(6, 429, 'Wierzchołek chmur', brown)
lead([100, 133, 183], [430, 430, 447], brown)
ltxt(6, 444, 'Podstawa chmur*')
ltxt(6, 456, 'o pokryciu')
ltxt(11, 468, '> 7.9 okt.')
lead([58, 125, 190], [468, 468, 455])
ltxt(11, 479, '> 6.5 okt.', '#555555')
lead([55, 143], [480, 480], '#555555')
ltxt(10, 490, '> 4.5 okt.', '#999999')
lead([62, 130, 140], [491, 491, 502], '#999999')
ltxt(10, 500, '> 2.5 okt.', '#dddddd')
lead([58, 135], [503, 503], '#dddddd')
ltxt(11, 511, '> 0.1 okt.', 'white', bbox=dict(facecolor='#55b5ff', edgecolor='none', pad=1))
lead([56, 138], [510, 510], '#88ccff')
lead([56, 138], [512.5, 512.5], '#88ccff')
ltxt(6, 526, 'Widzialność', '#ff8800')
lead([67, 125, 175], [527, 527, 463], '#ff8800')
ltxt(6, 543, 'Chmury:')
ltxt(10, 556, 'wysokie', 'white', bbox=dict(facecolor='#55b5ff', edgecolor='none', pad=1))
lead([54, 185], [556, 556], '#88ccff')
lead([54, 185], [558.5, 558.5], '#88ccff')
ltxt(10, 570, 'średnie', '#999999')
lead([50, 193], [572, 572], '#999999')
ltxt(10, 581, 'niskie', '#333333')
lead([40, 122], [582, 582], '#333333')
ltxt(10, 593, 'bardzo niskie', '#222222')
lead([74, 140], [594, 594], '#222222')
ltxt(6, 605, 'Mgła', '#ffb000')
lead([27, 218, 220], [605, 605, 600], '#ffb000')
ltxt(6, 622, 'Czas uniwersalny (UTC)')
lead([140, 148, 157], [623, 623, 608])
ltxt(5, 648, '* powyżej poziomu morza', fs=6.4, fontweight='bold')

fig.savefig('out.png', dpi=100)
